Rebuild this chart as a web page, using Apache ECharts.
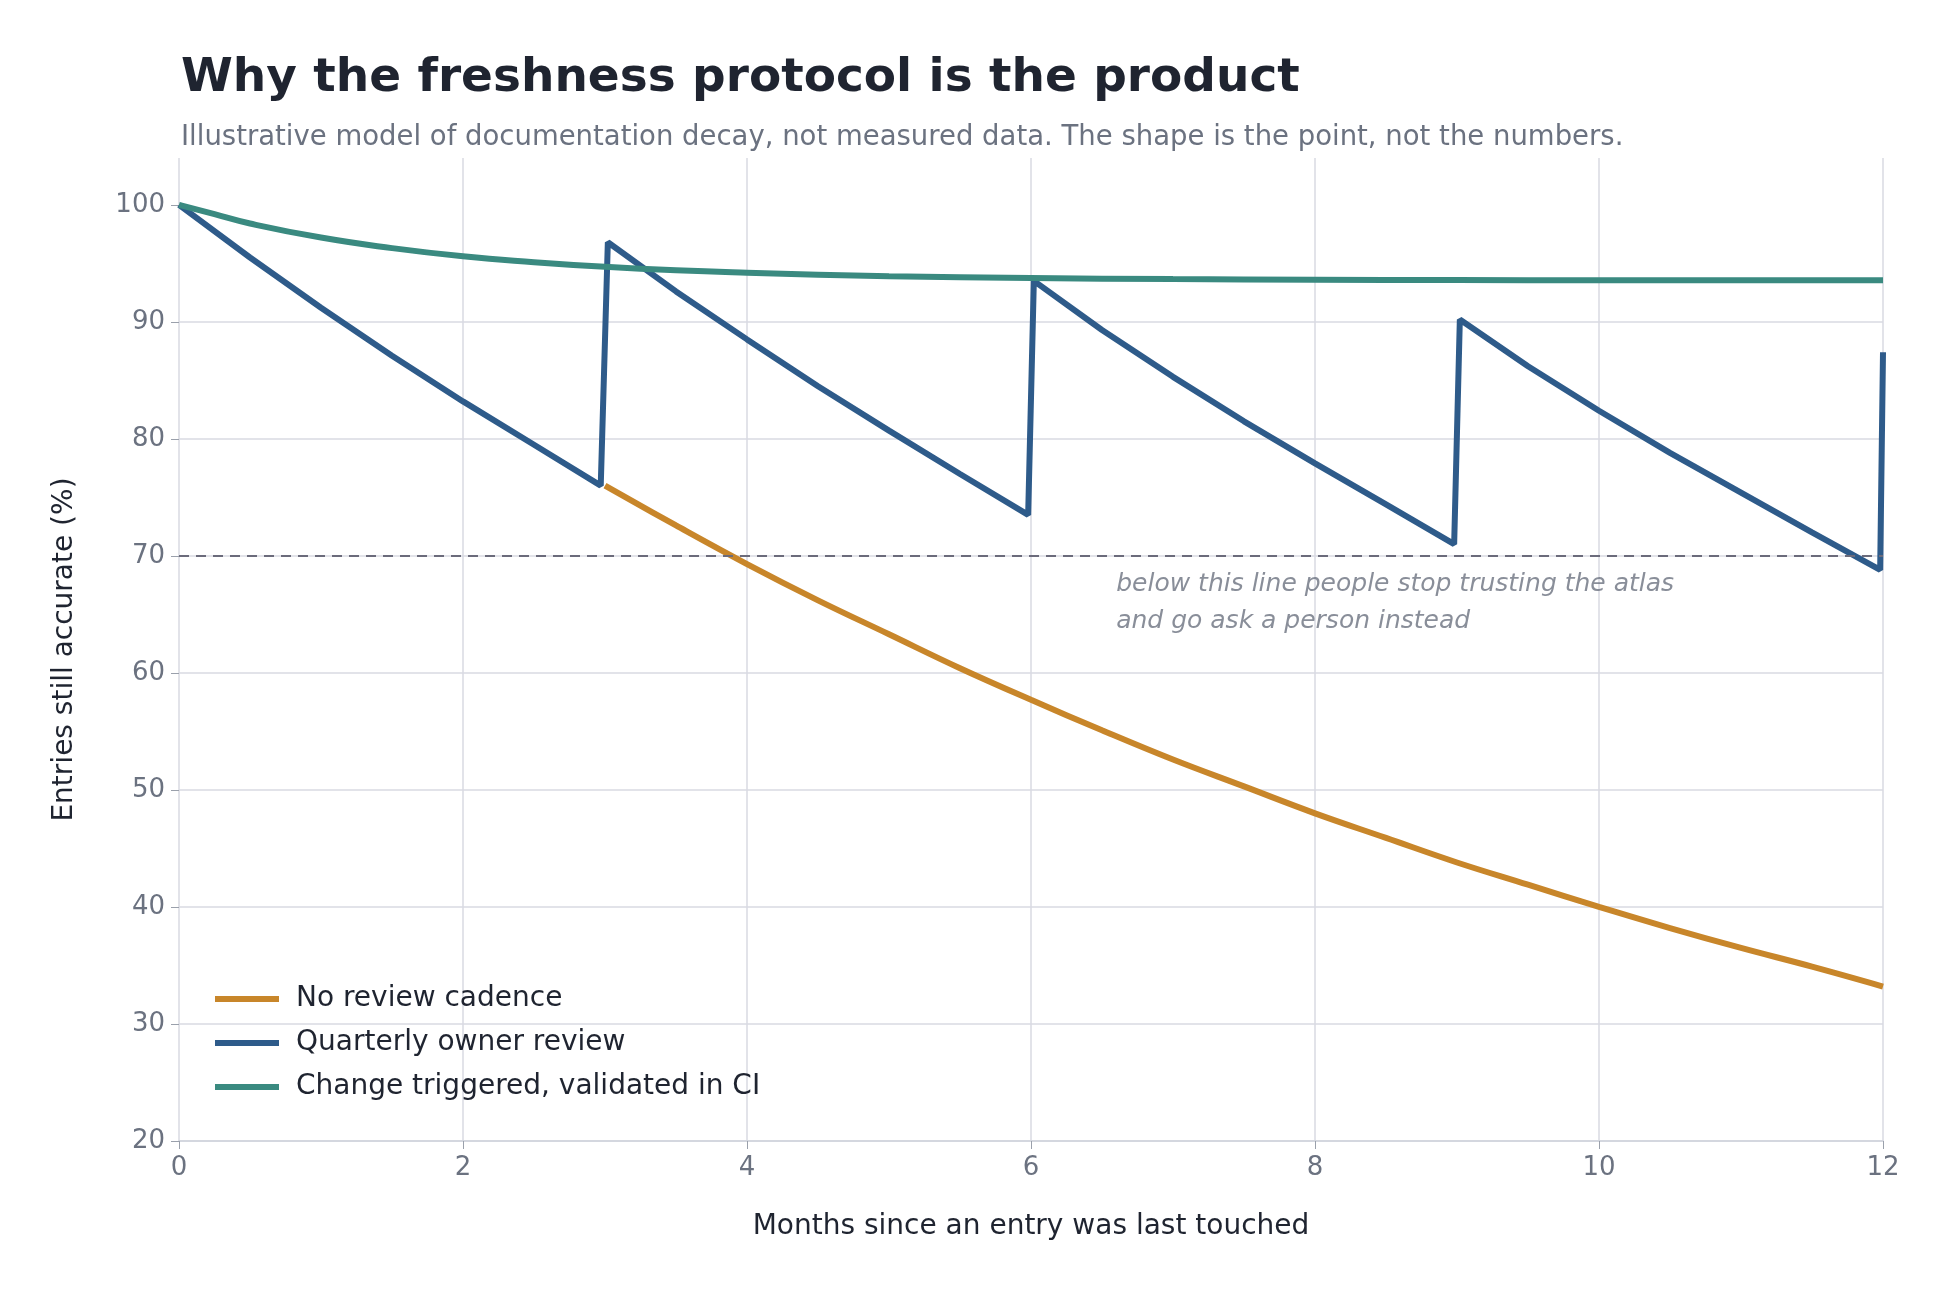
<!DOCTYPE html>
<html><head><meta charset="utf-8">
<script src="https://cdn.jsdelivr.net/npm/echarts@6/dist/echarts.min.js"></script>
<style>html,body{margin:0;background:#fff}#c{width:1957px;height:1298px}</style>
</head><body><div id="c"></div>
<script>
const noReview = [[0,100],[0.5,95.5],[1,91.2],[1.5,87.1],[2,83.2],[2.5,79.5],[3,76],[3.5,72.6],[4,69.3],[4.5,66.2],[5,63.3],[5.5,60.4],[6,57.7],[6.5,55.1],[7,52.6],[7.5,50.3],[8,48.0],[8.5,45.9],[9,43.8],[9.5,41.9],[10,40.0],[10.5,38.2],[11,36.5],[11.5,34.9],[12,33.2]];
const noReviewDrawn = noReview.filter(p => p[0] >= 3);
const quarterly = [[0,100],[0.5,95.5],[1,91.2],[1.5,87.1],[2,83.2],[2.5,79.5],[2.97,76],[3.02,96.8],[3.5,92.6],[4,88.5],[4.5,84.5],[5,80.7],[5.5,77.0],[5.98,73.5],[6.02,93.5],[6.5,89.3],[7,85.3],[7.5,81.5],[8,77.9],[8.5,74.4],[8.98,71],[9.02,90.2],[9.5,86.2],[10,82.4],[10.5,78.8],[11,75.4],[11.5,72.0],[11.98,68.8],[12,87.4]];
const ciTriggered = [[0,100],[0.25,99.2],[0.5,98.4],[1,97.2],[1.5,96.3],[2,95.6],[2.5,95.1],[3,94.7],[3.5,94.4],[4,94.2],[5,93.9],[6,93.75],[7,93.65],[8,93.6],[9,93.57],[10,93.55],[12,93.55]];
const xTicks = [0,2,4,6,8,10,12];
const yTicks = [20,30,40,50,60,70,80,90,100];
const threshold = 70;
const noteText = 'below this line people stop trusting the atlas\nand go ask a person instead';
const notePos = [6.6, 66.0];

const font = 'DejaVu Sans';
const chart = echarts.init(document.getElementById('c'));
chart.setOption({
  backgroundColor:'#fff',
  animation:false,
  textStyle:{fontFamily:font},
  title:{text:'Why the freshness protocol is the product',
    subtext:'Illustrative model of documentation decay, not measured data. The shape is the point, not the numbers.',
    left:176, top:50, itemGap:22,
    textStyle:{fontSize:47,fontWeight:'bold',color:'#1f2430',fontFamily:font},
    subtextStyle:{fontSize:27.5,color:'#6b7280',fontFamily:font}},
  grid:{left:179,right:74,top:158,bottom:157},
  legend:{orient:'vertical',left:210,top:980,itemWidth:64,itemHeight:6,itemGap:16,
    icon:'rect',textStyle:{fontSize:28,color:'#1f2430',fontFamily:font,padding:[0,0,0,12]},
    data:['No review cadence','Quarterly owner review','Change triggered, validated in CI']},
  xAxis:{type:'value',min:0,max:12,interval:2,
    name:'Months since an entry was last touched',nameLocation:'middle',nameGap:72,
    nameTextStyle:{fontSize:28,color:'#1f2430'},
    axisLine:{show:true,lineStyle:{color:'#d0d3dc',width:1.5}},
    axisTick:{show:true,length:8,lineStyle:{color:'#9aa0ab'}},
    axisLabel:{fontSize:26,color:'#6b7280',margin:14},
    splitLine:{show:true,lineStyle:{color:'#d8dae2',width:1.5}}},
  yAxis:{type:'value',min:20,max:104,interval:10,
    name:'Entries still accurate (%)',nameLocation:'middle',nameGap:100,
    nameTextStyle:{fontSize:28,color:'#1f2430'},
    axisLine:{show:false},
    axisTick:{show:true,length:8,lineStyle:{color:'#9aa0ab'},customValues:yTicks},
    axisLabel:{fontSize:26,color:'#6b7280',margin:14,customValues:yTicks},
    splitLine:{show:true,showMaxLine:false,lineStyle:{color:'#d8dae2',width:1.5}}},
  series:[
    {name:'No review cadence',type:'line',data:noReviewDrawn,showSymbol:false,smooth:0.4,
      lineStyle:{width:6,color:'#c8862a'},itemStyle:{color:'#c8862a'},z:2},
    {name:'Quarterly owner review',type:'line',data:quarterly,showSymbol:false,
      lineStyle:{width:6,color:'#2e5b8a'},itemStyle:{color:'#2e5b8a'},z:3,
      markLine:{silent:true,symbol:'none',label:{show:false},
        lineStyle:{type:[10,7],color:'#6b6b7b',width:2},data:[{yAxis:threshold}]}},
    {name:'Change triggered, validated in CI',type:'line',data:ciTriggered,showSymbol:false,smooth:true,
      lineStyle:{width:6,color:'#3a8a80'},itemStyle:{color:'#3a8a80'},z:4},
    {type:'scatter',data:[notePos],symbolSize:0,silent:true,
      label:{show:true,position:'right',distance:0,formatter:noteText,fontSize:25,fontStyle:'italic',
        color:'#6b7280',lineHeight:37,align:'left'}}
  ]
});
</script></body></html>
